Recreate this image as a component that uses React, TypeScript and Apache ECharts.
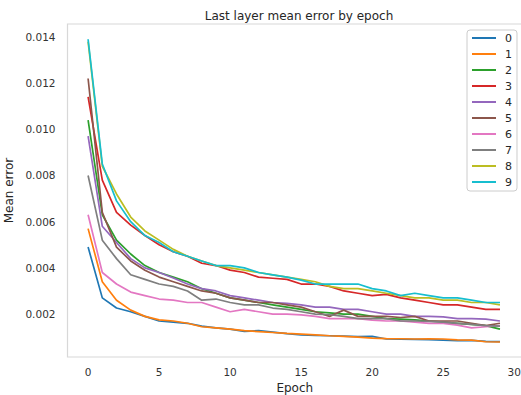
import React, { useEffect, useRef } from "react";
import * as echarts from "echarts";

const epochs: number[] = Array.from({ length: 30 }, (_, i) => i);
const seriesNames: string[] = ["0", "1", "2", "3", "4", "5", "6", "7", "8", "9"];
const colors: string[] = ["#1f77b4", "#ff7f0e", "#2ca02c", "#d62728", "#9467bd", "#8c564b", "#e377c2", "#7f7f7f", "#bcbd22", "#17becf"];

const s0: number[] = [0.0049, 0.0027, 0.00226, 0.0021, 0.0019, 0.0017, 0.00165, 0.0016, 0.00148, 0.0014, 0.00135, 0.00125, 0.00128, 0.00122, 0.00115, 0.0011, 0.00108, 0.00106, 0.00104, 0.00102, 0.00103, 0.00092, 0.00091, 0.0009, 0.00089, 0.00087, 0.00085, 0.00086, 0.00082, 0.00081];
const s1: number[] = [0.0057, 0.0034, 0.0026, 0.00217, 0.0019, 0.00175, 0.0017, 0.0016, 0.00145, 0.0014, 0.00135, 0.00128, 0.00124, 0.0012, 0.00116, 0.00113, 0.0011, 0.00106, 0.00103, 0.001, 0.00096, 0.00094, 0.00093, 0.00092, 0.00093, 0.00092, 0.00088, 0.00087, 0.0008, 0.00079];
const s2: number[] = [0.0104, 0.0063, 0.0052, 0.0046, 0.0041, 0.0038, 0.0036, 0.0034, 0.0031, 0.0029, 0.0027, 0.0026, 0.0025, 0.0024, 0.0023, 0.0022, 0.0021, 0.00205, 0.002, 0.002, 0.0019, 0.0018, 0.00178, 0.00175, 0.0017, 0.00165, 0.0016, 0.00155, 0.0015, 0.00135];
const s3: number[] = [0.0114, 0.0078, 0.0064, 0.00585, 0.0054, 0.005, 0.0047, 0.0045, 0.0042, 0.0041, 0.0039, 0.0038, 0.0036, 0.00355, 0.0035, 0.0033, 0.0033, 0.0032, 0.003, 0.0029, 0.0028, 0.00285, 0.0027, 0.0026, 0.0025, 0.0024, 0.0024, 0.0023, 0.0022, 0.0022];
const s4: number[] = [0.0097, 0.0058, 0.0051, 0.0044, 0.004, 0.0038, 0.00356, 0.0033, 0.0031, 0.003, 0.0028, 0.0027, 0.0026, 0.0025, 0.00246, 0.0024, 0.0023, 0.0023, 0.0022, 0.0022, 0.0021, 0.002, 0.002, 0.0019, 0.0019, 0.00188, 0.0018, 0.0018, 0.00178, 0.0017];
const s5: number[] = [0.0122, 0.0064, 0.0049, 0.0043, 0.0039, 0.0036, 0.0034, 0.0032, 0.003, 0.0029, 0.0027, 0.0026, 0.0025, 0.0025, 0.0024, 0.0023, 0.0021, 0.0019, 0.00217, 0.0019, 0.0019, 0.0019, 0.00185, 0.0019, 0.0017, 0.0017, 0.0017, 0.0016, 0.0015, 0.0016];
const s6: number[] = [0.0063, 0.0038, 0.0033, 0.00295, 0.0028, 0.00265, 0.0026, 0.0025, 0.0025, 0.0023, 0.0021, 0.0022, 0.0021, 0.002, 0.002, 0.00196, 0.0019, 0.0018, 0.0018, 0.0018, 0.00174, 0.0017, 0.0017, 0.00165, 0.0016, 0.0016, 0.00152, 0.0014, 0.00145, 0.0015];
const s7: number[] = [0.008, 0.0052, 0.0044, 0.0037, 0.0035, 0.0033, 0.0032, 0.003, 0.0026, 0.00265, 0.0025, 0.0024, 0.0024, 0.00226, 0.0022, 0.0021, 0.002, 0.00197, 0.0019, 0.0018, 0.0018, 0.0018, 0.0017, 0.0017, 0.00168, 0.00165, 0.0016, 0.00155, 0.0015, 0.00148];
const s8: number[] = [0.0138, 0.0084, 0.0072, 0.0062, 0.0056, 0.0052, 0.0048, 0.0045, 0.0043, 0.0041, 0.004, 0.0039, 0.0038, 0.0037, 0.0036, 0.0035, 0.0034, 0.0032, 0.0031, 0.0031, 0.003, 0.0029, 0.0028, 0.0027, 0.0027, 0.0026, 0.0026, 0.0025, 0.0025, 0.0024];
const s9: number[] = [0.0139, 0.0085, 0.0069, 0.006, 0.0054, 0.0051, 0.0047, 0.0045, 0.0043, 0.0041, 0.0041, 0.004, 0.0038, 0.0037, 0.0036, 0.00347, 0.0033, 0.0033, 0.0033, 0.0033, 0.0031, 0.003, 0.0028, 0.0029, 0.0028, 0.0027, 0.0027, 0.0026, 0.0025, 0.0025];
const allSeries: number[][] = [s0, s1, s2, s3, s4, s5, s6, s7, s8, s9];

const yTicks: number[] = [0.002, 0.004, 0.006, 0.008, 0.01, 0.012, 0.014];
const xTicks: number[] = [0, 5, 10, 15, 20, 25, 30];

const FONT = "DejaVu Sans";

export default function App() {
  const ref = useRef<HTMLDivElement>(null);
  useEffect(() => {
    if (!ref.current) return;
    const chart = echarts.init(ref.current, null, { renderer: "svg" });
    chart.setOption({
      animation: false,
      backgroundColor: "#ffffff",
      title: {
        text: "Last layer mean error by epoch",
        left: 294,
        textAlign: "center",
        top: 5,
        textStyle: { fontFamily: FONT, fontSize: 12, fontWeight: "normal", color: "#262626" },
      },
      legend: {
        orient: "vertical",
        left: 467,
        top: 30,
        padding: [0, 5, 1, 5],
        itemGap: 0,
        itemWidth: 24,
        itemHeight: 2,
        icon: "rect",
        borderColor: "#cccccc",
        borderWidth: 1,
        borderRadius: 3,
        backgroundColor: "rgba(255,255,255,0.8)",
        textStyle: { fontFamily: FONT, fontSize: 11, color: "#262626", lineHeight: 16, padding: [0, 0, 0, 4] },
        data: seriesNames,
      },
      grid: {
        left: 67.5,
        right: -1,
        top: 24,
        bottom: 38,
        outerBoundsMode: "none",
        containLabel: false,
        show: true,
        borderColor: "#d8d8d8",
        borderWidth: 1.2,
        backgroundColor: "transparent",
      },
      xAxis: {
        type: "value",
        min: -1.45,
        max: 30.55,
        name: "Epoch",
        nameLocation: "middle",
        nameGap: 23,
        nameTextStyle: { fontFamily: FONT, fontSize: 12, color: "#262626" },
        axisLine: { show: false },
        axisTick: { show: false, customValues: xTicks },
        splitLine: { show: false },
        axisLabel: {
          customValues: xTicks,
          margin: 9,
          fontFamily: FONT,
          fontSize: 10.5,
          color: "#333333",
          formatter: (v: number) => String(v),
        },
      },
      yAxis: {
        type: "value",
        min: 0.00014,
        max: 0.01456,
        name: "Mean error",
        nameLocation: "middle",
        nameGap: 48,
        nameTextStyle: { fontFamily: FONT, fontSize: 12, color: "#262626" },
        axisLine: { show: false },
        axisTick: { show: false, customValues: yTicks },
        splitLine: { show: false },
        axisLabel: {
          customValues: yTicks,
          margin: 12,
          fontFamily: FONT,
          fontSize: 10.5,
          color: "#333333",
          formatter: (v: number) => v.toFixed(3),
        },
      },
      series: allSeries.map((vals, k) => ({
        name: seriesNames[k],
        type: "line",
        data: vals.map((v, i) => [epochs[i], v]),
        showSymbol: false,
        symbol: "none",
        lineStyle: { width: 1.7, color: colors[k] },
        itemStyle: { color: colors[k] },
      })),
    });
    return () => chart.dispose();
  }, []);
  return <div ref={ref} style={{ position: "fixed", left: 0, top: 0, width: 521, height: 395 }} />;
}
